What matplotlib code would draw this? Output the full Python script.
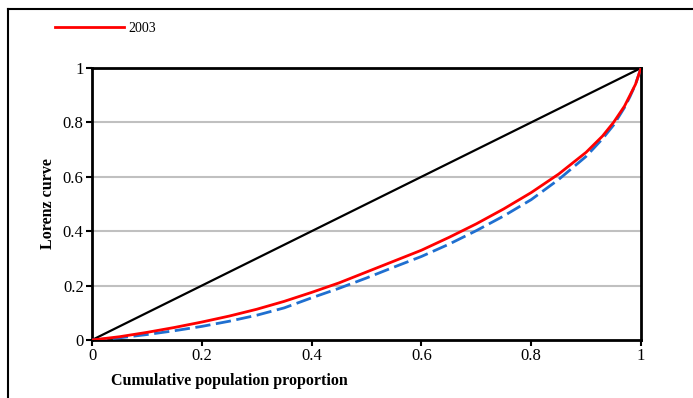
import numpy as np
import matplotlib.pyplot as plt
from matplotlib.lines import Line2D

# cumulative population share and Lorenz curve values
pop = [0, 0.05, 0.1, 0.15, 0.2, 0.25, 0.3, 0.35, 0.4, 0.45, 0.5, 0.55, 0.6,
       0.65, 0.7, 0.75, 0.8, 0.85, 0.9, 0.93, 0.95, 0.97, 0.98, 0.99, 1]
lorenz_2003 = [0, 0.012, 0.028, 0.046, 0.066, 0.088, 0.113, 0.142, 0.175, 0.21,
               0.25, 0.29, 0.33, 0.377, 0.427, 0.482, 0.542, 0.61, 0.69, 0.75,
               0.8, 0.86, 0.9, 0.94, 1]
lorenz_other = [0, 0.008, 0.02, 0.034, 0.05, 0.069, 0.091, 0.118, 0.155, 0.19,
                0.228, 0.268, 0.307, 0.352, 0.402, 0.456, 0.516, 0.59, 0.675,
                0.74, 0.79, 0.855, 0.895, 0.94, 1]
equality = [0, 1]
ticks = [0, 0.2, 0.4, 0.6, 0.8, 1]
tick_labels = ["0", "0.2", "0.4", "0.6", "0.8", "1"]

plt.rcParams['font.family'] = ['Liberation Serif', 'DejaVu Serif']

fig = plt.figure(figsize=(6.93, 3.98), dpi=100)
ax = fig.add_axes([92 / 693, 1 - 340 / 398, 549 / 693, 272 / 398])

# outer frame (only top and left edges show in the crop)
fig.add_artist(Line2D([8 / 693, 8 / 693], [0, 1 - 9 / 398], transform=fig.transFigure,
                      color='black', lw=1.5))
fig.add_artist(Line2D([8 / 693, 1], [1 - 9 / 398, 1 - 9 / 398], transform=fig.transFigure,
                      color='black', lw=1.5))

for y in ticks[1:-1]:
    ax.axhline(y, color='#c0c0c0', lw=1.5, zorder=0)

ax.plot(equality, equality, color='black', lw=1.6, zorder=2)
ax.plot(pop, lorenz_other, color='#1f6fd0', lw=2, ls=(0, (5.5, 2)), zorder=3)
line_2003, = ax.plot(pop, lorenz_2003, color='#ff0000', lw=2, zorder=4, label='2003')

ax.set_xlim(0, 1)
ax.set_ylim(0, 1)
ax.set_xticks(ticks)
ax.set_xticklabels(tick_labels)
ax.set_yticks(ticks)
ax.set_yticklabels(tick_labels)
ax.tick_params(direction='out', length=4, width=1.5, labelsize=12, pad=2)
for s in ax.spines.values():
    s.set_linewidth(2)

ax.set_xlabel('Cumulative population proportion', fontsize=11.5, fontweight='bold')
ax.xaxis.set_label_coords(0.251, -0.12)
ax.set_ylabel('Lorenz curve', fontsize=11.5, fontweight='bold', labelpad=5)

fig.legend(handles=[line_2003], loc='center left', bbox_to_anchor=(48 / 693, 1 - 28 / 398),
           frameon=False, fontsize=10, handlelength=5.0, handletextpad=0.3, borderpad=0)

fig.savefig('out.png', dpi=100)
